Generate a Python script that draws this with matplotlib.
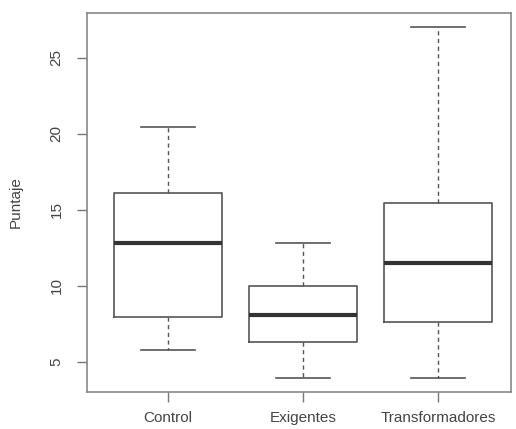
import matplotlib
matplotlib.use("Agg")
import matplotlib.pyplot as plt

categories = ["Control", "Exigentes", "Transformadores"]
whisker_low = [5.8, 3.9, 3.9]
q1 = [7.95, 6.3, 7.6]
medians = [12.8, 8.1, 11.5]
q3 = [16.1, 9.95, 15.45]
whisker_high = [20.45, 12.8, 27.0]
yticks = [5, 10, 15, 20, 25]

plt.rcParams['font.family'] = ['Liberation Sans', 'DejaVu Sans']

fig = plt.figure(figsize=(5.16, 4.29), dpi=100)
ax = fig.add_axes([87/516, 1-391.7/429, (511-87)/516, (391.7-13)/429])

stats = []
for i, c in enumerate(categories):
    stats.append(dict(label=c, whislo=whisker_low[i], q1=q1[i], med=medians[i],
                      q3=q3[i], whishi=whisker_high[i], fliers=[]))

lc = '#555555'
positions = list(range(1, len(categories) + 1))
ax.bxp(stats, positions=positions, widths=0.8, showfliers=False,
       boxprops=dict(color=lc, linewidth=1.2),
       medianprops=dict(color='#333333', linewidth=3.0, solid_capstyle='butt'),
       whiskerprops=dict(color=lc, linewidth=1.0, linestyle=(0, (3, 2.5))),
       capprops=dict(color=lc, linewidth=1.2),
       capwidths=0.4)

ax.set_xlim(0.398, 3.54)
ax.set_ylim(3.03, 27.94)
ax.set_yticks(yticks)
ax.set_yticklabels([str(t) for t in yticks], rotation=90, va='center')
ax.set_xticks(positions)
ax.set_xticklabels(categories)
ax.tick_params(axis='both', colors='#777777', labelcolor='#444444', labelsize=11,
               length=7, width=1.0)
ax.tick_params(axis='x', pad=7)
ax.tick_params(axis='y', pad=10)
for s in ax.spines.values():
    s.set_color('#888888')
    s.set_linewidth(1.2)
ax.set_ylabel("Puntaje", fontsize=11, color='#444444', labelpad=19)

fig.savefig("out.png", dpi=100)
